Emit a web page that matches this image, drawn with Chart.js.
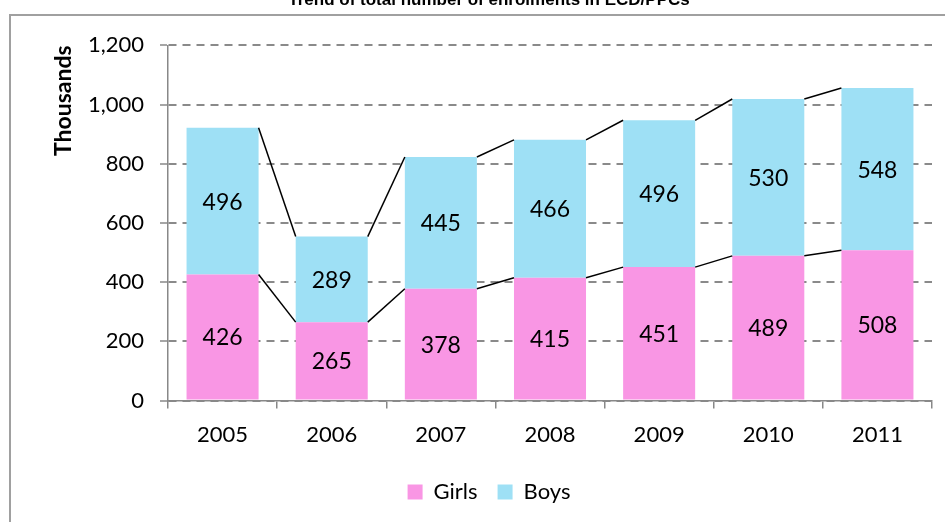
<!DOCTYPE html>
<html lang="en">
<head>
    <meta charset="UTF-8" />
    <title>Trend of total number of enrolments in ECD/PPCs</title>
    <script src="https://cdn.jsdelivr.net/npm/chart.js"></script>
    <style>
        html, body { margin: 0; padding: 0; background: #fff; overflow: hidden; }
        #wrap { position: absolute; left: 0; top: -14px; width: 945px; height: 536px; }
        #frame {
            position: absolute; left: 9px; top: 14px; width: 960px; height: 506px;
            border-left: 2px solid #a0a0a0; border-top: 2px solid #a0a0a0;
            pointer-events: none;
        }
    </style>
</head>
<body>
    <div id="wrap"><canvas id="enrolChart" width="945" height="536"></canvas></div>
    <div id="frame"></div>

    <script>
        // enrolments, thousands
        const years = ['2005', '2006', '2007', '2008', '2009', '2010', '2011'];
        const girls = [426, 265, 378, 415, 451, 489, 508];
        const boys = [496, 289, 445, 466, 496, 530, 548];
        const yTicks = [0, 200, 400, 600, 800, 1000, 1200];

        const FONT = 'Lato, "Open Sans", sans-serif';

        // Excel-style series lines between stacked bars
        const seriesLines = {
            id: 'seriesLines',
            afterDatasetsDraw(chart) {
                const ctx = chart.ctx;
                ctx.save();
                ctx.strokeStyle = '#000';
                ctx.lineWidth = 1.5;
                chart.data.datasets.forEach((ds, di) => {
                    const bars = chart.getDatasetMeta(di).data;
                    for (let i = 0; i < bars.length - 1; i++) {
                        const a = bars[i], b = bars[i + 1];
                        ctx.beginPath();
                        ctx.moveTo(a.x + a.width / 2, a.y);
                        ctx.lineTo(b.x - b.width / 2, b.y);
                        ctx.stroke();
                    }
                });
                ctx.restore();
            }
        };

        // value in the middle of every segment
        const barLabels = {
            id: 'barLabels',
            afterDatasetsDraw(chart) {
                const ctx = chart.ctx;
                ctx.save();
                ctx.fillStyle = '#000';
                ctx.font = '23px ' + FONT;
                ctx.textAlign = 'center';
                ctx.textBaseline = 'middle';
                chart.data.datasets.forEach((ds, di) => {
                    chart.getDatasetMeta(di).data.forEach((bar, i) => {
                        ctx.fillText(String(ds.data[i]), bar.x, (bar.y + bar.base) / 2 + 1);
                    });
                });
                ctx.restore();
            }
        };

        new Chart(document.getElementById('enrolChart'), {
            type: 'bar',
            data: {
                labels: years,
                datasets: [
                    { label: 'Girls', data: girls, backgroundColor: 'rgb(249, 150, 228)' },
                    { label: 'Boys', data: boys, backgroundColor: 'rgb(158, 224, 245)' }
                ]
            },
            options: {
                responsive: false,
                animation: false,
                layout: { padding: { left: 46, right: 13, top: 0, bottom: 9 } },
                datasets: { bar: { categoryPercentage: 1, barPercentage: 0.66 } },
                scales: {
                    x: {
                        stacked: true,
                        offset: true,
                        grid: { display: true, drawOnChartArea: false, offset: true, tickLength: 8, color: '#888', lineWidth: 1.5 },
                        border: { color: '#888', width: 1.5 },
                        ticks: { color: '#000', font: { family: FONT, size: 22 }, padding: 13 }
                    },
                    y: {
                        stacked: true,
                        min: 0,
                        max: 1200,
                        afterBuildTicks: (s) => { s.ticks = yTicks.map(v => ({ value: v })); },
                        afterFit: (s) => { s.width = 122; },
                        grid: {
                            color: '#8a8a8a', lineWidth: 2,
                            tickLength: 8, tickColor: '#888', tickBorderDash: [], tickWidth: 1.5
                        },
                        border: { color: '#888', width: 1.5, dash: [8, 6] },
                        ticks: {
                            color: '#000', font: { family: FONT, size: 22 }, padding: 16,
                            callback: (v) => v.toLocaleString('en-US')
                        },
                        title: {
                            display: true, text: 'Thousands', color: '#000', align: 'end',
                            font: { family: FONT, size: 23, weight: 'bold' },
                            padding: { top: 4, bottom: 0 }
                        }
                    }
                },
                plugins: {
                    title: {
                        display: true,
                        text: 'Trend of total number of enrolments in ECD/PPCs',
                        color: '#000',
                        font: { family: '"Liberation Sans", Arial, sans-serif', size: 17, weight: 'bold' },
                        padding: { top: 4, bottom: 35 }
                    },
                    legend: {
                        position: 'bottom',
                        labels: {
                            color: '#000', boxWidth: 15, boxHeight: 15, padding: 20,
                            font: { family: FONT, size: 22 }
                        }
                    },
                    tooltip: { enabled: false }
                }
            },
            plugins: [seriesLines, barLabels]
        });
    </script>
</body>
</html>
